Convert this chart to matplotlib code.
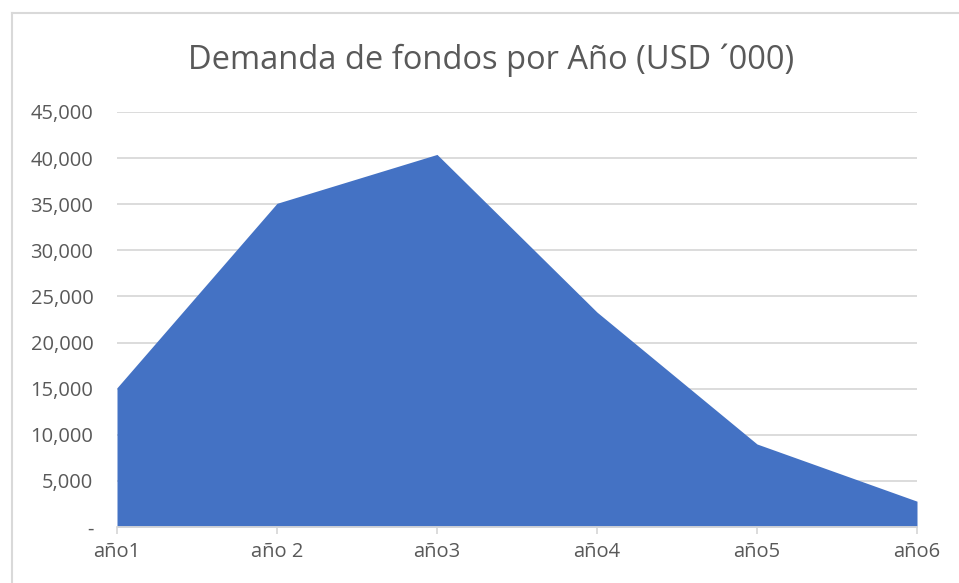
import numpy as np
import matplotlib.pyplot as plt
from matplotlib.lines import Line2D
from matplotlib.ticker import FuncFormatter

# Data
years = ["año1", "año 2", "año3", "año4", "año5", "año6"]
demand = [15100, 35100, 40400, 23300, 9000, 2800]

plt.rcParams['font.family'] = ['Open Sans', 'DejaVu Sans']

W, H = 959, 583
fig = plt.figure(figsize=(W / 100, H / 100), dpi=100)
ax = fig.add_axes([117 / W, 1 - 527 / H, 800 / W, (527 - 112) / H])

x = np.arange(len(years))
ax.fill_between(x, demand, 0, color="#4472C4", linewidth=0, zorder=2)

ax.set_xlim(0, len(years) - 1)
ax.set_ylim(0, 45000)
ax.set_yticks(np.arange(0, 45001, 5000))
ax.yaxis.set_major_formatter(FuncFormatter(lambda v, p: "-" if v == 0 else f"{v:,.0f}"))
ax.set_xticks(x)
ax.set_xticklabels(years)

ax.grid(axis="y", color="#d9d9d9", linewidth=1.3, zorder=0)
ax.set_axisbelow(True)
for s in ["left", "right", "top"]:
    ax.spines[s].set_visible(False)
ax.spines["bottom"].set_color("#d9d9d9")
ax.spines["bottom"].set_linewidth(1.3)
ax.spines["bottom"].set_zorder(3)

ax.tick_params(axis="y", length=0, pad=17, labelsize=14.5, labelcolor="#595959")
ax.tick_params(axis="x", length=5, width=1.3, color="#d9d9d9", pad=6,
               labelsize=14.5, labelcolor="#595959")

fig.text(491 / W, 1 - 60 / H, "Demanda de fondos por Año (USD ´000)",
         ha="center", va="center", fontsize=23.5, color="#595959")

# chart border (top and left edges visible)
fig.add_artist(Line2D([12 / W, 1], [1 - 13 / H, 1 - 13 / H], color="#d9d9d9", linewidth=1.5))
fig.add_artist(Line2D([12 / W, 12 / W], [0, 1 - 13 / H], color="#d9d9d9", linewidth=1.5))

fig.savefig("out.png", dpi=100)
